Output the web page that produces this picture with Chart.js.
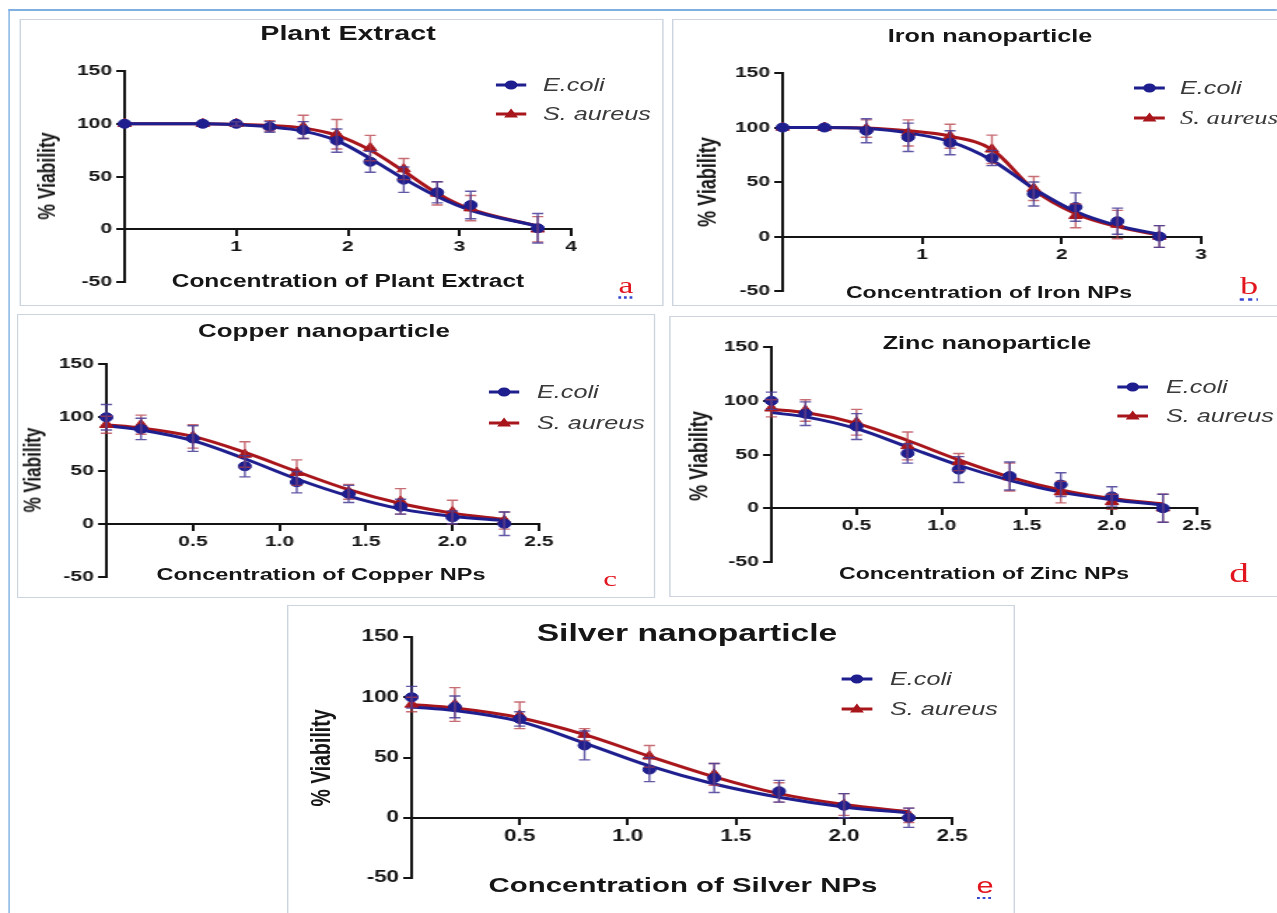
<!DOCTYPE html>
<html>
<head>
<meta charset="utf-8">
<script src="https://cdn.jsdelivr.net/npm/chart.js@4.4.1/dist/chart.umd.min.js"></script>
<style>
html, body { margin: 0; background: #fff; width: 1277px; height: 913px; overflow: hidden; }
#fig { position: absolute; left: 0; top: 0; width: 913px; height: 913px; transform: scaleX(1.4); transform-origin: 0 0;
       font-family: "Liberation Sans", Arial, sans-serif; }
canvas { position: absolute; }
.box { position: absolute; border: 1px solid #cbd4df; box-sizing: border-box; }
.line { position: absolute; background: #7fb0e2; }
.t { position: absolute; white-space: nowrap; font-weight: bold; color: #161616; transform: translate(-50%, -50%); }
.rot { transform: translate(-50%, -50%) rotate(-90deg); }
.leg { position: absolute; white-space: nowrap; font-style: italic; font-size: 18px; color: #3a3a3a; transform: translateY(-50%); }
.serif { font-family: "Liberation Serif", "Times New Roman", serif; }
.sym { position: absolute; line-height: 0; }
.letter { position: absolute; color: #e2141d; transform: translate(-50%, -50%); }
.dots { text-decoration: underline dotted #3546d0; text-underline-offset: 4px; }
</style>
</head>
<body>
<div id="fig"></div>
<script>
// texts
const panelTitles = ["Plant Extract", "Iron nanoparticle", "Copper nanoparticle", "Zinc nanoparticle", "Silver nanoparticle"];
const xTitles = ["Concentration of Plant Extract", "Concentration of Iron NPs", "Concentration of Copper NPs",
                 "Concentration of Zinc NPs", "Concentration of Silver NPs"];
const yTitle = "% Viability";
const letters = ["a", "b", "c", "d", "e"];
const seriesNames = ["E.coli", "S. aureus"];

// ticks
const yTicks = [-50, 0, 50, 100, 150];
const plantTicks = [1, 2, 3, 4];
const ironTicks = [1, 2, 3];
const npTicks = [0.5, 1.0, 1.5, 2.0, 2.5];

// a - plant extract
const plantX = [0, 0.7, 1.0, 1.3, 1.6, 1.9, 2.2, 2.5, 2.8, 3.1, 3.7];
const plantEcoli = [100, 100, 100, 97, 94, 84, 64, 47, 35, 23, 1];
const plantEcoliErr = [0, 0, 2, 5, 8, 11, 10, 12, 10, 13, 14];
const plantSaureus = [100, 100, 100, 98, 97, 90, 77, 57, 34, 20, 0];
const plantSaureusErr = [0, 0, 2, 5, 11, 14, 12, 10, 11, 12, 12];
const plantEcoliFit = [100, 100, 99, 97, 93, 84, 67, 48, 31, 18, 3];
const plantSaureusFit = [100, 100, 99.5, 98.5, 96, 89, 75, 55, 34, 19, 3];

// b - iron
const ironX = [0, 0.3, 0.6, 0.9, 1.2, 1.5, 1.8, 2.1, 2.4, 2.7];
const ironEcoli = [100, 100, 97, 91, 86, 72, 39, 27, 14, 0];
const ironEcoliErr = [0, 0, 11, 13, 11, 7, 11, 13, 12, 10];
const ironSaureus = [100, 100, 99, 95, 92, 80, 44, 19, 11, 0];
const ironSaureusErr = [0, 0, 8, 12, 11, 13, 11, 11, 13, 10];
const ironEcoliFit = [100, 100, 99, 95, 87, 70, 44, 23, 10, 2];
const ironSaureusFit = [100, 100, 99.5, 97, 92, 80, 43, 21, 9, 1];

// c - copper
const copperX = [0, 0.2, 0.5, 0.8, 1.1, 1.4, 1.7, 2.0, 2.3];
const copperEcoli = [100, 89, 80, 54, 39, 28, 16, 6, 0];
const copperEcoliErr = [12, 10, 12, 10, 10, 8, 7, 6, 11];
const copperSaureus = [93, 93, 82, 65, 48, 30, 21, 11, 3];
const copperSaureusErr = [8, 9, 11, 12, 12, 7, 12, 11, 8];
const copperEcoliFit = [92, 88, 78, 61, 42, 26, 14, 7, 3];
const copperSaureusFit = [93, 90, 82, 67, 49, 32, 19, 10, 4];

// d - zinc
const zincX = [0, 0.2, 0.5, 0.8, 1.1, 1.4, 1.7, 2.0, 2.3];
const zincEcoli = [100, 88, 76, 51, 36, 30, 22, 11, 0];
const zincEcoliErr = [8, 11, 12, 9, 12, 13, 11, 9, 13];
const zincSaureus = [93, 91, 80, 58, 43, 29, 15, 6, 0];
const zincSaureusErr = [8, 10, 12, 13, 8, 13, 10, 7, 13];
const zincEcoliFit = [89, 85, 74, 57, 40, 26, 15, 8, 3];
const zincSaureusFit = [92, 89, 79, 63, 45, 29, 17, 9, 4];

// e - silver
const silverX = [0, 0.2, 0.5, 0.8, 1.1, 1.4, 1.7, 2.0, 2.3];
const silverEcoli = [100, 92, 82, 60, 40, 33, 22, 10, 0];
const silverEcoliErr = [9, 9, 6, 12, 10, 12, 9, 10, 8];
const silverSaureus = [94, 94, 85, 69, 51, 36, 21, 11, 2];
const silverSaureusErr = [6, 14, 11, 5, 9, 9, 8, 9, 6];
const silverEcoliFit = [92, 89, 80, 62, 43, 28, 17, 9, 4];
const silverSaureusFit = [94, 91, 83, 69, 51, 34, 20, 11, 5];

const S = 1.4;  // the source figure is stretched sideways
const BLUE = "#1e1e8e", RED = "#a8161c";
const BLUE_ERR = "rgba(70,60,150,0.85)", RED_ERR = "rgba(180,60,70,0.75)";

// page coords: box, plot area [left,right,top,bottom], text spots [x,y,size]
const panels = [
  { x: plantX, ec: plantEcoli, ecErr: plantEcoliErr, sa: plantSaureus, saErr: plantSaureusErr,
    ecFit: plantEcoliFit, saFit: plantSaureusFit, ticks: plantTicks, dec: 0,
    box: [19, 19, 664, 306], plot: [125, 571, 71, 282], tick: 15,
    title: [348, 33, 20.5], yLab: [47, 176, 17.5], xLab: [348, 281, 17.5],
    leg: [496, 527, 543, 85, 114], letter: [626, 285, 24, true, true] },
  { x: ironX, ec: ironEcoli, ecErr: ironEcoliErr, sa: ironSaureus, saErr: ironSaureusErr,
    ecFit: ironEcoliFit, saFit: ironSaureusFit, ticks: ironTicks, dec: 0,
    box: [672, 19, 1290, 306], plot: [782, 1200, 73, 291], tick: 15,
    title: [990, 36, 18], yLab: [709, 182, 18], xLab: [989, 292, 16.5],
    leg: [1134, 1165, 1180, 88, 118], letter: [1249, 286, 26, true, true], serifLegend: true },
  { x: copperX, ec: copperEcoli, ecErr: copperEcoliErr, sa: copperSaureus, saErr: copperSaureusErr,
    ecFit: copperEcoliFit, saFit: copperSaureusFit, ticks: npTicks, dec: 1,
    box: [17, 314, 655, 598], plot: [106, 538, 364, 577], tick: 15,
    title: [324, 331, 18.5], yLab: [33, 470, 17], xLab: [321, 575, 16.8],
    leg: [489, 520, 537, 392, 423], letter: [610, 579, 22, true, false] },
  { x: zincX, ec: zincEcoli, ecErr: zincEcoliErr, sa: zincSaureus, saErr: zincSaureusErr,
    ecFit: zincEcoliFit, saFit: zincSaureusFit, ticks: npTicks, dec: 1,
    box: [669, 316, 1290, 597], plot: [771, 1197, 347, 562], tick: 15,
    title: [987, 343, 18], yLab: [700, 456, 18], xLab: [984, 573, 16.5],
    leg: [1117, 1148, 1166, 387, 416], letter: [1239, 573, 28, true, false] },
  { x: silverX, ec: silverEcoli, ecErr: silverEcoliErr, sa: silverSaureus, saErr: silverSaureusErr,
    ecFit: silverEcoliFit, saFit: silverSaureusFit, ticks: npTicks, dec: 1,
    box: [287, 605, 1015, 930], plot: [412, 952, 637, 878], tick: 16,
    title: [687, 633, 24], yLab: [320, 758, 19.5], xLab: [683, 885, 21],
    leg: [842, 873, 890, 679, 709], letter: [985, 886, 22, false, true] }
];

const fig = document.getElementById("fig");

function put(el, x, y) {
  el.style.left = (x / S) + "px";
  el.style.top = y + "px";
  fig.appendChild(el);
  return el;
}

function div(cls, html) {
  const d = document.createElement("div");
  d.className = cls;
  if (html !== undefined) d.textContent = html;
  return d;
}

function text(str, [x, y, size], cls) {
  const d = div("t " + (cls || ""), str);
  d.style.fontSize = size + "px";
  return put(d, x, y);
}

// outer blue frame
const frameTop = put(div("line"), 8, 9);
frameTop.style.width = (1277 - 8) / S + "px"; frameTop.style.height = "2px";
const frameLeft = put(div("line"), 8, 9);
frameLeft.style.width = "1.4px"; frameLeft.style.height = "904px";

// error bars drawn through the chart scales
function errBars(sets) {
  return {
    id: "errbars",
    afterDatasetsDraw(c) {
      const { ctx, scales: { x, y } } = c;
      sets.forEach(([xs, ys, es, col]) => {
        ctx.save();
        ctx.strokeStyle = col;
        ctx.lineWidth = 1.4;
        ctx.beginPath();
        xs.forEach((v, i) => {
          if (!es[i]) return;
          const px = x.getPixelForValue(v);
          const t = y.getPixelForValue(ys[i] + es[i]), b = y.getPixelForValue(ys[i] - es[i]);
          ctx.moveTo(px, t); ctx.lineTo(px, b);
          ctx.moveTo(px - 4, t); ctx.lineTo(px + 4, t);
          ctx.moveTo(px - 4, b); ctx.lineTo(px + 4, b);
        });
        ctx.stroke();
        ctx.restore();
      });
    }
  };
}

const pts = (xs, ys) => xs.map((v, i) => ({ x: v, y: ys[i] }));

function makeChart(p) {
  const [pl, pr, pt, pb] = p.plot;
  const YW = 50, XH = 34, PT = 16, PR = 30;
  const w = Math.round((pr - pl) / S) + YW + PR, h = (pb - pt) + PT + XH;
  const cv = document.createElement("canvas");
  cv.width = w; cv.height = h;
  cv.style.width = w + "px"; cv.style.height = h + "px";
  cv.style.left = (Math.round(pl / S) - YW) + "px";
  cv.style.top = (pt - PT) + "px";
  fig.appendChild(cv);

  const font = { family: "'Liberation Sans', Arial, sans-serif", size: p.tick, weight: "bold" };
  const axis = { grid: { drawOnChartArea: false, color: "#141414", lineWidth: 2, tickLength: 6 },
                 border: { color: "#141414", width: 2 } };

  new Chart(cv, {
    type: "line",
    data: {
      datasets: [
        { data: pts(p.x, p.ec), showLine: false, pointStyle: "circle", pointRadius: 4.5,
          backgroundColor: BLUE, borderColor: BLUE, clip: false, order: 0 },
        { data: pts(p.x, p.sa), showLine: false, pointStyle: "triangle", pointRadius: 5.5,
          backgroundColor: RED, borderColor: RED, clip: false, order: 1 },
        { data: pts(p.x, p.ecFit), borderColor: BLUE, borderWidth: 3, pointRadius: 0,
          cubicInterpolationMode: "monotone", clip: false, order: 2 },
        { data: pts(p.x, p.saFit), borderColor: RED, borderWidth: 3, pointRadius: 0,
          cubicInterpolationMode: "monotone", clip: false, order: 3 }
      ]
    },
    options: {
      responsive: false, animation: false, events: [],
      // the x axis sits at y=0, so the room under the plot is plain padding
      layout: { padding: { top: PT, right: PR, left: 0, bottom: XH } },
      plugins: { legend: { display: false }, tooltip: { enabled: false } },
      scales: {
        x: { type: "linear", position: { y: 0 }, min: 0, max: p.ticks[p.ticks.length - 1], ...axis,
             afterBuildTicks: s => { s.ticks = p.ticks.map(v => ({ value: v })); },
             ticks: { font, color: "#161616", padding: 3, maxRotation: 0, autoSkip: false,
                      callback: v => v.toFixed(p.dec) } },
        y: { min: yTicks[0], max: yTicks[yTicks.length - 1], ...axis,
             afterFit: s => { s.width = YW; },
             afterBuildTicks: s => { s.ticks = yTicks.map(v => ({ value: v })); },
             ticks: { font, color: "#161616", padding: 3, callback: v => String(v) } }
      }
    },
    plugins: [errBars([[p.x, p.sa, p.saErr, RED_ERR], [p.x, p.ec, p.ecErr, BLUE_ERR]])]
  });
}

function legend(p) {
  const [x1, x2, tx, y1, y2] = p.leg;
  const w = (x2 - x1) / S, m = w / 2;
  [[y1, BLUE, `<circle cx="${m}" cy="7" r="4.5" fill="${BLUE}"/>`, seriesNames[0], false],
   [y2, RED, `<polygon points="${m},1.5 ${m + 5},10.5 ${m - 5},10.5" fill="${RED}"/>`, seriesNames[1], p.serifLegend]]
    .forEach(([y, col, mark, name, serif]) => {
      const s = div("sym");
      s.innerHTML = `<svg width="${w}" height="14"><line x1="0" y1="7" x2="${w}" y2="7" stroke="${col}" stroke-width="3"/>${mark}</svg>`;
      put(s, x1, y - 7);
      const t = div("leg" + (serif ? " serif" : ""), name);
      if (serif) t.style.fontSize = "19px";
      put(t, tx, y);
    });
}

panels.forEach((p, i) => {
  const [bl, bt, br, bb] = p.box;
  const b = put(div("box"), bl, bt);
  b.style.width = (br - bl) / S + "px";
  b.style.height = (bb - bt) + "px";

  makeChart(p);
  text(panelTitles[i], p.title);
  text(xTitles[i], p.xLab);
  text(yTitle, p.yLab, "rot");
  legend(p);

  const [lx, ly, ls, serif, dots] = p.letter;
  const l = div("letter" + (serif ? " serif" : "") + (dots ? " dots" : ""), letters[i]);
  l.style.fontSize = ls + "px";
  put(l, lx, ly);
});
</script>
</body>
</html>
